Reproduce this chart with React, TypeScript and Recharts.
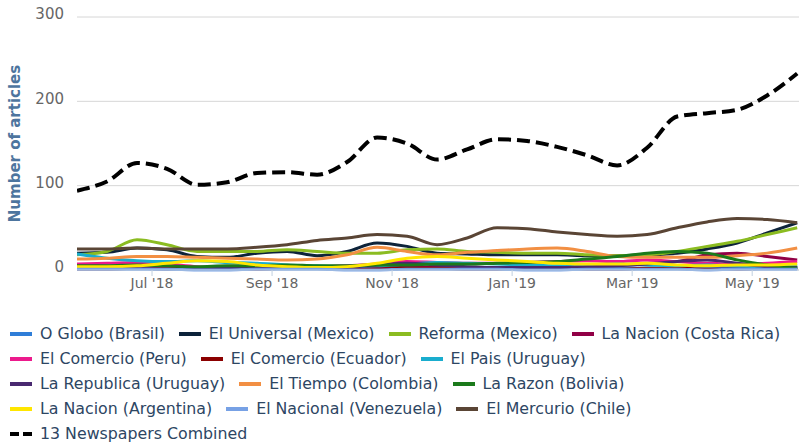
import React from 'react';
import { LineChart, Line, XAxis, YAxis, CartesianGrid } from 'recharts';

// half-month positions (0 = Jun '18, 1 = Jul '18, ...)
const periods = [-0.25, 0.25, 0.75, 1.25, 1.75, 2.25, 2.75, 3.25, 3.75, 4.25, 4.75, 5.25, 5.75, 6.25, 6.75, 7.25, 7.75, 8.25, 8.75, 9.25, 9.75, 10.25, 10.75, 11.25, 11.75];
const monthTicks = [1, 3, 5, 7, 9, 11];
const monthTickLabels = ["Jul '18", "Sep '18", "Nov '18", "Jan '19", "Mar '19", "May '19"];
const yTicks = [0, 100, 200, 300];

const oGlobo = [3, 3, 2, 2, 3, 3, 2, 2, 2, 3, 3, 2, 2, 3, 3, 2, 2, 3, 3, 2, 2, 3, 3, 2, 3];
const elUniversal = [20, 21, 26, 24, 16, 15, 20, 22, 17, 22, 32, 28, 20, 19, 18, 18, 18, 17, 17, 18, 20, 25, 32, 44, 56];
const reforma = [18, 22, 36, 30, 22, 22, 22, 24, 22, 20, 20, 24, 25, 22, 21, 20, 20, 18, 17, 18, 22, 28, 34, 42, 50];
const laNacionCR = [3, 3, 2, 2, 2, 3, 3, 2, 2, 3, 4, 4, 3, 3, 3, 3, 4, 4, 6, 8, 10, 18, 20, 16, 12];
const elComercioPeru = [7, 8, 9, 7, 4, 3, 4, 5, 4, 5, 7, 10, 9, 8, 8, 9, 10, 11, 10, 12, 10, 8, 7, 8, 10];
const elComercioEcuador = [1, 1, 2, 2, 1, 1, 1, 2, 2, 1, 1, 2, 2, 1, 1, 2, 2, 1, 1, 2, 2, 1, 1, 2, 2];
const elPais = [19, 14, 11, 10, 11, 9, 8, 6, 5, 4, 5, 7, 9, 8, 7, 6, 5, 6, 7, 6, 5, 6, 5, 4, 5];
const laRepublica = [2, 2, 2, 1, 1, 2, 2, 2, 2, 3, 6, 8, 6, 4, 3, 3, 3, 4, 5, 7, 10, 12, 8, 4, 3];
const elTiempo = [13, 14, 16, 16, 15, 14, 13, 12, 13, 18, 27, 22, 18, 21, 23, 25, 26, 22, 16, 15, 15, 15, 17, 20, 26];
const laRazon = [5, 5, 6, 5, 4, 5, 5, 6, 5, 5, 6, 6, 7, 7, 8, 9, 10, 13, 16, 20, 22, 20, 12, 6, 2];
const laNacionArg = [4, 4, 5, 8, 11, 10, 6, 4, 3, 4, 8, 14, 16, 14, 12, 10, 8, 7, 7, 8, 6, 5, 6, 6, 7];
const elNacional = [1, 1, 1, 1, 0, 0, 1, 1, 1, 0, 0, 1, 1, 1, 1, 0, 0, 1, 1, 1, 1, 0, 1, 1, 1];
const elMercurio = [25, 25, 26, 25, 25, 25, 27, 30, 35, 38, 42, 40, 30, 38, 50, 49, 45, 42, 40, 42, 50, 57, 61, 60, 56];
const combined = [94, 105, 127, 120, 101, 104, 115, 116, 113, 128, 157, 150, 131, 143, 155, 153, 146, 136, 124, 145, 182, 186, 190, 207, 233];

const seriesList = [
  { key: 'oGlobo', name: 'O Globo (Brasil)', color: '#2f7ed8', values: oGlobo },
  { key: 'elUniversal', name: 'El Universal (Mexico)', color: '#0d233a', values: elUniversal },
  { key: 'reforma', name: 'Reforma (Mexico)', color: '#8bbc21', values: reforma },
  { key: 'laNacionCR', name: 'La Nacion (Costa Rica)', color: '#910046', values: laNacionCR },
  { key: 'elComercioPeru', name: 'El Comercio (Peru)', color: '#ec1a8c', values: elComercioPeru },
  { key: 'elComercioEcuador', name: 'El Comercio (Ecuador)', color: '#8b0000', values: elComercioEcuador },
  { key: 'elPais', name: 'El Pais (Uruguay)', color: '#1aadce', values: elPais },
  { key: 'laRepublica', name: 'La Republica (Uruguay)', color: '#492970', values: laRepublica },
  { key: 'elTiempo', name: 'El Tiempo (Colombia)', color: '#f28f43', values: elTiempo },
  { key: 'laRazon', name: 'La Razon (Bolivia)', color: '#1b7a1b', values: laRazon },
  { key: 'laNacionArg', name: 'La Nacion (Argentina)', color: '#ffe600', values: laNacionArg },
  { key: 'elNacional', name: 'El Nacional (Venezuela)', color: '#77a1e5', values: elNacional },
  { key: 'elMercurio', name: 'El Mercurio (Chile)', color: '#5a4535', values: elMercurio },
];
const combinedSeries = { key: 'combined', name: '13 Newspapers Combined', color: '#000000', values: combined };

const legendRows = [
  ['oGlobo', 'elUniversal', 'reforma', 'laNacionCR'],
  ['elComercioPeru', 'elComercioEcuador', 'elPais'],
  ['laRepublica', 'elTiempo', 'laRazon'],
  ['laNacionArg', 'elNacional', 'elMercurio'],
  ['combined'],
];

const data = periods.map((p, i) => {
  const row: Record<string, number> = { x: p };
  seriesList.forEach((s) => { row[s.key] = s.values[i]; });
  row[combinedSeries.key] = combinedSeries.values[i];
  return row;
});

const FONT = '"DejaVu Sans", Verdana, sans-serif';

const YLabel = (props: any) => {
  const vb = props.viewBox || { x: 0, y: 17, width: 77, height: 253 };
  const cx = 15;
  const cy = vb.y + vb.height / 2;
  return (
    <text x={cx} y={cy} transform={`rotate(-90 ${cx} ${cy})`} textAnchor="middle" dominantBaseline="central"
      fill="#4d759e" fontSize={15} fontWeight="bold" fontFamily={FONT}>
      Number of articles
    </text>
  );
};

const allSeries = [...seriesList, combinedSeries];

const LegendItem = ({ s }: { s: any }) => (
  <div style={{ display: 'flex', alignItems: 'center', marginRight: 14, whiteSpace: 'nowrap' }}>
    {s.key === 'combined' ? (
      <svg width={22} height={4} style={{ marginRight: 8 }}>
        <line x1={0} y1={2} x2={22} y2={2} stroke="#000" strokeWidth={4} strokeDasharray="9 4" />
      </svg>
    ) : (
      <span style={{ display: 'inline-block', width: 22, height: 4, background: s.color, marginRight: 8 }} />
    )}
    <span>{s.name}</span>
  </div>
);

export default function App() {
  return (
    <div style={{ position: 'absolute', left: 0, top: 0, width: 799, height: 446, background: '#ffffff', fontFamily: FONT }}>
      <LineChart width={799} height={300} data={data} margin={{ top: 17, right: 0, bottom: 0, left: 0 }}>
        <CartesianGrid horizontal vertical={false} stroke="#d6d6d6" />
        <XAxis
          dataKey="x"
          type="number"
          domain={[-0.25, 11.78]}
          allowDataOverflow
          ticks={monthTicks}
          tickFormatter={(v: number) => monthTickLabels[monthTicks.indexOf(v)] ?? ''}
          height={30}
          axisLine={{ stroke: '#c0d0e0' }}
          tickLine={{ stroke: '#c0d0e0' }}
          tickSize={6}
          tick={{ fill: '#666666', fontSize: 14, fontFamily: FONT }}
        />
        <YAxis
          domain={[0, 300]}
          ticks={yTicks}
          width={77}
          axisLine={false}
          tickLine={false}
          tickSize={6}
          tickMargin={7}
          tick={{ fill: '#666666', fontSize: 15, fontFamily: FONT, dy: -3 }}
          label={<YLabel />}
        />
        {seriesList.map((s) => (
          <Line key={s.key} dataKey={s.key} name={s.name} type="monotone" stroke={s.color} strokeWidth={3}
            dot={false} activeDot={false} isAnimationActive={false} />
        ))}
        <Line dataKey={combinedSeries.key} name={combinedSeries.name} type="monotone" stroke="#000000" strokeWidth={4}
          strokeDasharray="13 6" dot={false} activeDot={false} isAnimationActive={false} />
      </LineChart>
      <div style={{ position: 'absolute', left: 10, top: 321, width: 789, fontSize: 15.8, color: '#2d4663' }}>
        {legendRows.map((row, ri) => (
          <div key={ri} style={{ display: 'flex', height: 25, alignItems: 'center' }}>
            {row.map((k) => {
              const s = allSeries.find((q) => q.key === k);
              return <LegendItem key={k} s={s} />;
            })}
          </div>
        ))}
      </div>
    </div>
  );
}
